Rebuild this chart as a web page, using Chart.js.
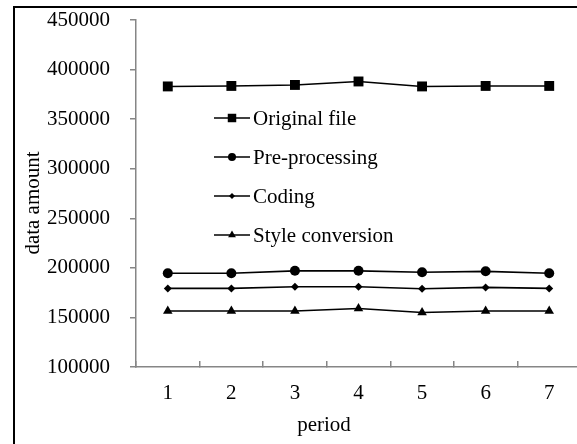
<!DOCTYPE html>
<html>
<head>
<meta charset="utf-8">
<script src="https://cdn.jsdelivr.net/npm/chart.js@4.4.0/dist/chart.umd.min.js"></script>
<style>
    html, body { margin: 0; background: #fff; overflow: hidden; width: 577px; height: 444px; }
    #wrap { position: absolute; left: 0; top: 0; width: 577px; height: 444px; overflow: hidden; }
    #frame {
        position: absolute; left: 13px; top: 6px; width: 600px; height: 500px;
        border-left: 2px solid #000; border-top: 2px solid #000; pointer-events: none;
    }
    canvas { display: block; }
</style>
</head>
<body>
<div id="wrap">
    <canvas id="Data_Amount" width="581" height="444"></canvas>
    <div id="frame"></div>
</div>
<script>
// Data
const periods = ['1', '2', '3', '4', '5', '6', '7'];
const originalFile = [383000, 383500, 384500, 388000, 383000, 383500, 383500];
const preProcessing = [194500, 194500, 197000, 197000, 195500, 196500, 194500];
const coding = [179300, 179300, 181000, 181000, 179000, 180300, 179300];
const styleConversion = [156500, 156500, 156500, 159000, 155000, 156500, 156500];

const FONT = { family: '"Liberation Serif", "Times New Roman", serif', size: 21 };
const AXIS = '#868686';

// titles and legend drawn by hand (placed where the reference has them)
const extras = {
    id: 'extras',
    afterDraw(chart) {
        const ctx = chart.ctx;
        ctx.save();
        ctx.fillStyle = '#000';
        ctx.font = FONT.size + 'px ' + FONT.family;
        ctx.textAlign = 'center';
        ctx.textBaseline = 'middle';
        ctx.fillText('period', 324, 425);

        ctx.save();
        ctx.translate(33, 203);
        ctx.rotate(-Math.PI / 2);
        ctx.fillText('data amount', 0, 0);
        ctx.restore();

        ctx.textAlign = 'left';
        chart.data.datasets.forEach((ds, i) => {
            const y = 118 + i * 39;
            ctx.strokeStyle = ds.borderColor;
            ctx.lineWidth = ds.borderWidth;
            ctx.beginPath();
            ctx.moveTo(214, y);
            ctx.lineTo(250, y);
            ctx.stroke();
            ctx.fillStyle = ds.pointBackgroundColor;
            Chart.helpers.drawPoint(ctx, {
                pointStyle: ds.pointStyle, radius: ds.pointRadius - 1, rotation: 0, borderWidth: 0
            }, 232, y);
            ctx.fillStyle = '#000';
            ctx.fillText(ds.label, 253, y + 1);
        });
        ctx.restore();
    }
};

const ctx1 = document.getElementById('Data_Amount').getContext('2d');
const myChart1 = new Chart(ctx1, {
    type: 'line',
    data: {
        labels: periods,
        datasets: [{
            label: 'Original file',
            data: originalFile,
            pointStyle: 'rect',
            pointRadius: 7
        }, {
            label: 'Pre-processing',
            data: preProcessing,
            pointStyle: 'circle',
            pointRadius: 5
        }, {
            label: 'Coding',
            data: coding,
            pointStyle: 'rectRot',
            pointRadius: 4
        }, {
            label: 'Style conversion',
            data: styleConversion,
            pointStyle: 'triangle',
            pointRadius: 5.5
        }].map(ds => Object.assign(ds, {
            borderColor: '#000',
            backgroundColor: '#000',
            pointBackgroundColor: '#000',
            pointBorderWidth: 0,
            borderWidth: 1.6,
            tension: 0
        }))
    },
    options: {
        responsive: false,
        animation: false,
        devicePixelRatio: 1,
        layout: { autoPadding: false, padding: { top: 20, left: 0, right: 0, bottom: 0 } },
        plugins: {
            legend: { display: false },
            tooltip: { enabled: false }
        },
        scales: {
            x: {
                offset: true,
                grid: { offset: true, drawOnChartArea: false, tickLength: -6, color: AXIS, lineWidth: 1.5 },
                border: { color: AXIS, width: 1.5 },
                ticks: { color: '#000', font: FONT, padding: 20 },
                afterFit: s => { s.height = 77; s.paddingLeft = 0; s.paddingRight = 0; }
            },
            y: {
                min: 100000,
                max: 450000,
                grid: { drawOnChartArea: false, tickLength: 6, color: AXIS, lineWidth: 1.5 },
                border: { color: AXIS, width: 1.5 },
                ticks: { stepSize: 50000, color: '#000', font: FONT, padding: 20, callback: v => String(v) },
                afterFit: s => { s.width = 136; s.paddingTop = 0; s.paddingBottom = 0; }
            }
        }
    },
    plugins: [extras]
});
</script>
</body>
</html>
